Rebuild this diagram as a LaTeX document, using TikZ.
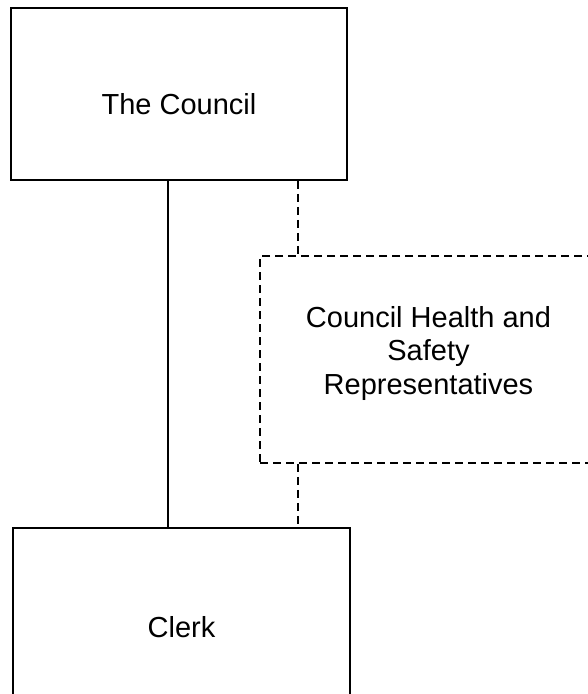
\documentclass[tikz,border=0pt]{standalone}
\usepackage{fontspec}
\setmainfont{Liberation Sans}
\begin{document}
\begin{tikzpicture}[x=1pt,y=-1pt,
  box/.style={draw=black,line width=1.6pt,rectangle,inner sep=0pt},
  dbox/.style={box,dash pattern=on 8pt off 5pt},
  lbl/.style={inner sep=0pt,font=\fontsize{29}{33.5}\selectfont,align=center},
  link/.style={draw=black,line width=1.3pt},
  dlink/.style={link,dash pattern=on 8pt off 5pt}]
\useasboundingbox (0,0) rectangle (588,694);
\node[box,minimum width=336pt,minimum height=172pt] (council) at (179,94) {};
\node[box,minimum width=337pt,minimum height=194pt] (clerk) at (181.5,625) {};
\node[dbox,minimum width=337pt,minimum height=207pt] (reps) at (428.5,359.5) {};
\node[lbl,anchor=base] (councilText) at (179,114) {The Council};
\node[lbl,anchor=base] (clerkText) at (181.5,637.5) {Clerk};
\node[lbl,anchor=center] (repsText) at (428.5,353) {Council Health and\\Safety\\Representatives};
\coordinate (solidx) at (168,0);
\coordinate (dashx) at (298,0);
\draw[link] (council.south -| solidx) -- (clerk.north -| solidx);
\draw[dlink] (council.south -| dashx) -- (reps.north -| dashx);
\draw[dlink] (reps.south -| dashx) -- (clerk.north -| dashx);
\end{tikzpicture}
\end{document}
